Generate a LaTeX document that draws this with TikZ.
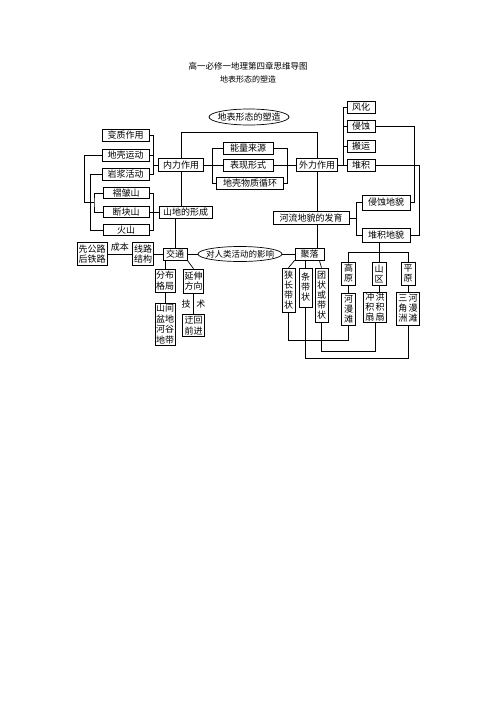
\documentclass[tikz,border=0pt]{standalone}
\usepackage{fontspec}
\setmainfont{Noto Sans CJK SC}
\usetikzlibrary{shapes.geometric}
\begin{document}
\begin{tikzpicture}[x=1pt,y=-1pt,line width=0.7pt,
 bx/.style={draw,inner sep=0pt,align=center,font=\fontsize{9}{10.5}\selectfont},
 vbx/.style={draw,inner sep=0pt,align=center,font=\fontsize{9}{10}\selectfont},
 wh/.style 2 args={minimum width=#1pt,minimum height=#2pt},
 ov/.style={draw,ellipse,inner ysep=0pt,font=\fontsize{9}{10.5}\selectfont},
 lbl/.style={inner sep=0pt,font=\fontsize{9}{10.5}\selectfont}]
\fill[white] (0,0) rectangle (496,702);
\useasboundingbox (0,0) rectangle (496,702);

% titles
\node[font=\fontsize{8.5}{10}\selectfont] (title) at (248,66) {高一必修一地理第四章思维导图};
\node[font=\fontsize{8}{10}\selectfont] (sub) at (248,79) {地表形态的塑造};

% top
\node[ov,inner xsep=-4pt,minimum width=80pt,minimum height=16pt] (e1) at (249,117) {地表形态的塑造};
\node[bx,wh={45}{13}] (nl) at (181,165) {内力作用};
\node[bx,wh={41}{13}] (wl) at (317,165) {外力作用};
\node[bx,wh={50}{12}] (m1) at (248,148) {能量来源};
\node[bx,wh={50}{12}] (m2) at (248,165) {表现形式};
\node[bx,wh={67}{12}] (m3) at (250,183) {地壳物质循环};

% left column
\node[bx,wh={47}{12}] (a1) at (125.5,135) {变质作用};
\node[bx,wh={47}{12}] (a2) at (125.5,155) {地壳运动};
\node[bx,wh={47}{12}] (a3) at (125.5,174) {岩浆活动};
\node[bx,wh={46}{11}] (a4) at (126,193) {褶皱山};
\node[bx,wh={46}{11}] (a5) at (126,212) {断块山};
\node[bx,wh={46}{11}] (a6) at (126,230) {火山};

\node[bx,wh={53}{12}] (shan) at (185.5,212) {山地的形成};
\node[bx,wh={24}{12}] (jt) at (175,254) {交通};
\node[bx,wh={21}{23}] (xl) at (143,254) {线路\\结构};
\node[bx,wh={30}{23}] (xg) at (92,254) {先公路\\后铁路};
\node[bx,wh={20}{23}] (fb) at (165,280.5) {分布\\格局};
\node[bx,wh={20}{24}] (yf) at (193.5,281) {延伸\\方向};
\node[bx,wh={20}{42}] (sj) at (165,324) {山间\\盆地\\河谷\\地带};
\node[bx,wh={22}{22}] (yh) at (193.5,325.5) {迂回\\前进};
\node[ov,inner xsep=-7pt,minimum width=84pt,minimum height=15pt,font=\fontsize{8.5}{10}\selectfont] (e2) at (240,254) {对人类活动的影响};
\node[bx,wh={29}{12}] (jl) at (309.5,254) {聚落};
\node[bx,wh={76}{13}] (hl) at (311,218) {河流地貌的发育};

% right column
\node[bx,wh={28}{12}] (r1) at (361,107) {风化};
\node[bx,wh={28}{12}] (r2) at (361,126.5) {侵蚀};
\node[bx,wh={28}{12}] (r3) at (361,146) {搬运};
\node[bx,wh={28}{12}] (r4) at (361,165) {堆积};
\node[bx,wh={48}{15}] (qs) at (386,202.5) {侵蚀地貌};
\node[bx,wh={48}{14}] (dj) at (386,235.5) {堆积地貌};

\node[vbx,wh={14}{23}] (gy) at (348.5,273.5) {高\\原};
\node[vbx,wh={14}{23}] (sq) at (379,273.5) {山\\区};
\node[vbx,wh={14}{23}] (py) at (408,273.5) {平\\原};
\node[vbx,wh={14}{32}] (hm) at (348.5,309) {河\\漫\\滩};
\node[vbx,wh={23}{30}] (cj) at (375,307.5) {冲\,洪\\积\,积\\扇\,扇};
\node[vbx,wh={23}{33}] (sz) at (408,308.5) {三\,河\\角\,漫\\洲\,滩};

\node[vbx,wh={13}{44}] (s1) at (288.5,290) {狭\\长\\带\\状};
\node[vbx,wh={13}{39}] (s2) at (305.5,287.5) {条\\带\\状};
\node[vbx,wh={13}{54}] (s3) at (321.5,295) {团\\状\\或\\带\\状};

% connectors: top
\coordinate (tl) at (181,132);
\coordinate (tr) at (317,132);
\draw (nl.north) -- (tl) -- (tr) -- (wl.north);
\draw (nl.south) -- (nl.south |- shan.north);
\draw (jt.north) -- (jt.north |- shan.south);
\draw (nl.east) -- (m2.west);
\draw (m2.east) -- (wl.west);
\coordinate (mlx) at (212,0);
\coordinate (mrx) at (287,0);
\draw (m1.west) -- (m1.west -| mlx) -- (m3.west -| mlx) -- (m3.west);
\draw (m1.east) -- (m1.east -| mrx) -- (m3.east -| mrx) -- (m3.east);

% left brackets
\coordinate (lb) at (153,0);
\draw (a1.east) -- (a1.east -| lb) -- (a3.east -| lb) -- (a3.east);
\draw (a2.east) -- (a2.east -| lb);
\draw (nl.west) -- (nl.west -| lb);
\draw (a4.east) -- (a4.east -| lb) -- (a6.east -| lb) -- (a6.east);
\draw (a5.east) -- (shan.west);
\coordinate (p1) at (84,202);
\coordinate (p2) at (94,202);
\coordinate (p3) at (90,0);
\draw (a2.west) -| (p1) -- (p2);
\draw (a4.west) -| (p2) |- (a5.west);
\draw (a3.west) -- (a3.west -| p3) -- (a6.west -| p3) -- (a6.west);

% transport
\draw (xg.east) -- node[lbl,above=2pt]{成本} (xl.west);
\draw (xl.east) -- (jt.west);
\draw (fb.north) -- (fb.north |- jt.south);
\draw (jt.south east) -- (yf.north);
\draw (fb.south) -- (sj.north);
\draw (yf.south) -- node[lbl]{技\hspace{6pt}术} (yh.north);
\draw (jt.east) -- (e2.west);
\draw (e2.east) -- (jl.west);

% right side
\coordinate (vx) at (317,0);
\draw (wl.south) -- (wl.south |- hl.north);
\draw (vx |- hl.south) -- (vx |- jl.north);
\coordinate (rb) at (343,0);
\draw (r1.west) -- (r1.west -| rb) -- (r4.west -| rb);
\draw (r2.west) -- (r2.west -| rb);
\draw (r3.west) -- (r3.west -| rb);
\draw (wl.east) -- (r4.west);
\coordinate (q1) at (414,0);
\coordinate (q2) at (419,0);
\draw (r2.east) -- (r2.east -| q1) -- (qs.east -| q1) -- (qs.east);
\draw (r4.east) -- (r4.east -| q2) -- (dj.east -| q2) -- (dj.east);
\coordinate (hb) at (356,0);
\draw (hl.east) -- (hl.east -| hb);
\draw (qs.west) -- (qs.west -| hb) -- (dj.west -| hb) -- (dj.west);
\coordinate (hy) at (0,252);
\draw (sq.north) -- (sq.north |- dj.south);
\draw (gy.north) -- (gy.north |- hy) -- (py.north |- hy) -- (py.north);
\draw (gy.south) -- (hm.north);
\draw (sq.south) -- (sq.south |- cj.north);
\draw (py.south) -- (sz.north);

% settlements
\draw (jl.south west) -- (s1.north);
\draw (s2.north) -- (s2.north |- jl.south);
\draw ([xshift=-5pt]jl.south east) -- (s3.north);
\coordinate (y1) at (0,340);
\coordinate (y2) at (0,351);
\coordinate (y3) at (0,358);
\draw (s1.south) -- (s1.south |- y1) -- (hm.south |- y1) -- (hm.south);
\draw (s3.south) -- (s3.south |- y2) -- (cj.south |- y2) -- (cj.south);
\draw (s2.south) -- (s2.south |- y3) -- (sz.south |- y3) -- (sz.south);
\end{tikzpicture}
\end{document}
